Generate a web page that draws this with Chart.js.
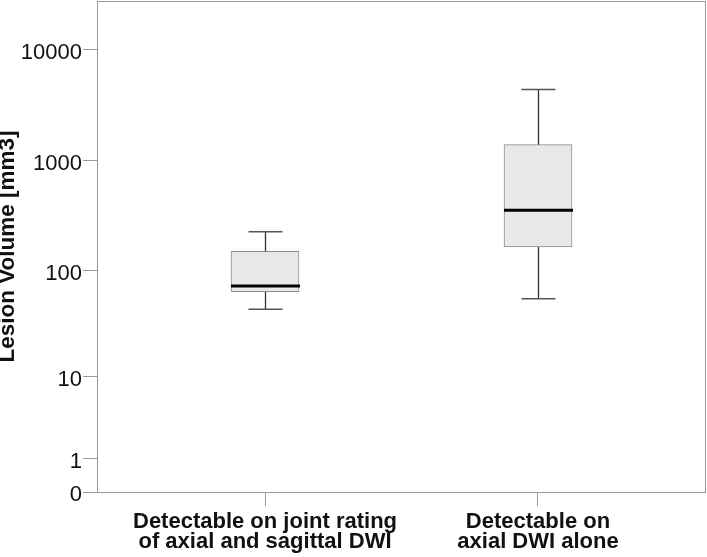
<!DOCTYPE html>
<html>
<head>
<meta charset="utf-8">
<script src="https://cdn.jsdelivr.net/npm/chart.js@4.4.0/dist/chart.umd.min.js"></script>
<style>
  html, body { margin: 0; padding: 0; background: #fff; }
  #wrap { width: 707px; height: 557px; }
</style>
</head>
<body>
<div id="wrap"><canvas id="boxChart" width="707" height="557"></canvas></div>
<script>
// Datos del boxplot (mm3)
const categories = [
    ['Detectable on joint rating', 'of axial and sagittal DWI'],
    ['Detectable on', 'axial DWI alone']
];
const whiskerLow = [44, 55];
const q1 = [64, 164];
const median = [72, 354];
const q3 = [150, 1390];
const whiskerHigh = [226, 4400];
const yTickValues = [0, 1, 10, 100, 1000, 10000];

// escala tipo SPSS: log10(x + 1)
function tr(v) {
    return Math.log10(v + 1);
}

const boxData = categories.map((c, i) => ({ x: i + 1, y: [tr(q1[i]), tr(q3[i])] }));

// Bigotes, mediana y marco
const boxExtras = {
    id: 'boxExtras',
    afterDatasetsDraw(chart) {
        const ctx = chart.ctx;
        const xs = chart.scales.x;
        const ys = chart.scales.y;
        ctx.save();
        categories.forEach((c, i) => {
            const x = Math.round(xs.getPixelForValue(i + 1)) + 0.5;
            const yLo = ys.getPixelForValue(tr(whiskerLow[i]));
            const yQ1 = ys.getPixelForValue(tr(q1[i]));
            const yQ3 = ys.getPixelForValue(tr(q3[i]));
            const yHi = ys.getPixelForValue(tr(whiskerHigh[i]));
            const yMed = ys.getPixelForValue(tr(median[i]));

            ctx.strokeStyle = '#333';
            ctx.lineWidth = 1.3;
            ctx.beginPath();
            ctx.moveTo(x, yQ3); ctx.lineTo(x, yHi);
            ctx.moveTo(x, yQ1); ctx.lineTo(x, yLo);
            ctx.stroke();

            ctx.strokeStyle = '#555';
            ctx.lineWidth = 1.5;
            ctx.beginPath();
            ctx.moveTo(x - 17, yHi); ctx.lineTo(x + 17, yHi);
            ctx.moveTo(x - 17, yLo); ctx.lineTo(x + 17, yLo);
            ctx.stroke();

            ctx.strokeStyle = '#000';
            ctx.lineWidth = 3;
            ctx.beginPath();
            ctx.moveTo(x - 34.5, yMed); ctx.lineTo(x + 34.5, yMed);
            ctx.stroke();
        });

        const a = chart.chartArea;
        ctx.strokeStyle = '#999';
        ctx.lineWidth = 1;
        ctx.strokeRect(a.left + 0.5, a.top + 0.5, a.right - a.left - 1, a.bottom - a.top);
        ctx.restore();
    }
};

new Chart(document.getElementById('boxChart'), {
    type: 'bar',
    data: {
        datasets: [{
            data: boxData,
            backgroundColor: '#e8e8e8',
            borderColor: '#8c8c8c',
            borderWidth: 1,
            borderSkipped: false,
            barThickness: 68
        }]
    },
    options: {
        responsive: false,
        animation: false,
        layout: { padding: { top: 1, right: 1, left: 0, bottom: 0 } },
        plugins: {
            legend: { display: false },
            tooltip: { enabled: false }
        },
        scales: {
            x: {
                type: 'linear',
                offset: false,
                min: 0.3846,
                max: 2.6154,
                afterBuildTicks: axis => {
                    axis.ticks = categories.map((c, i) => ({ value: i + 1 }));
                },
                afterFit: axis => {
                    axis.height = 65;
                    axis.paddingLeft = 0;
                    axis.paddingRight = 0;
                },
                grid: { offset: false, drawOnChartArea: false, drawTicks: true, tickLength: 14, color: '#999' },
                border: { display: false },
                ticks: {
                    color: '#111',
                    padding: 6,
                    maxRotation: 0,
                    autoSkip: false,
                    font: { family: '"Liberation Sans", Arial, sans-serif', size: 22, weight: 'bold', lineHeight: 20 / 22 },
                    callback: (v, i) => categories[i]
                }
            },
            y: {
                type: 'linear',
                min: 0,
                max: 491 / 110.5,
                afterBuildTicks: axis => {
                    axis.ticks = yTickValues.map(v => ({ value: tr(v) }));
                },
                afterFit: axis => {
                    axis.width = 97;
                    axis.paddingTop = 0;
                    axis.paddingBottom = 0;
                },
                grid: { drawOnChartArea: false, drawTicks: true, tickLength: 14, color: '#999' },
                border: { display: false },
                ticks: {
                    color: '#111',
                    padding: 1,
                    labelOffset: 3,
                    autoSkip: false,
                    font: { family: '"Liberation Sans", Arial, sans-serif', size: 22 },
                    callback: (v, i) => String(yTickValues[i])
                },
                title: {
                    display: true,
                    text: 'Lesion Volume [mm3]',
                    color: '#111',
                    padding: { top: -5.5, bottom: 0 },
                    font: { family: '"Liberation Sans", Arial, sans-serif', size: 22.5, weight: 'bold' }
                }
            }
        }
    },
    plugins: [boxExtras]
});
</script>
</body>
</html>
